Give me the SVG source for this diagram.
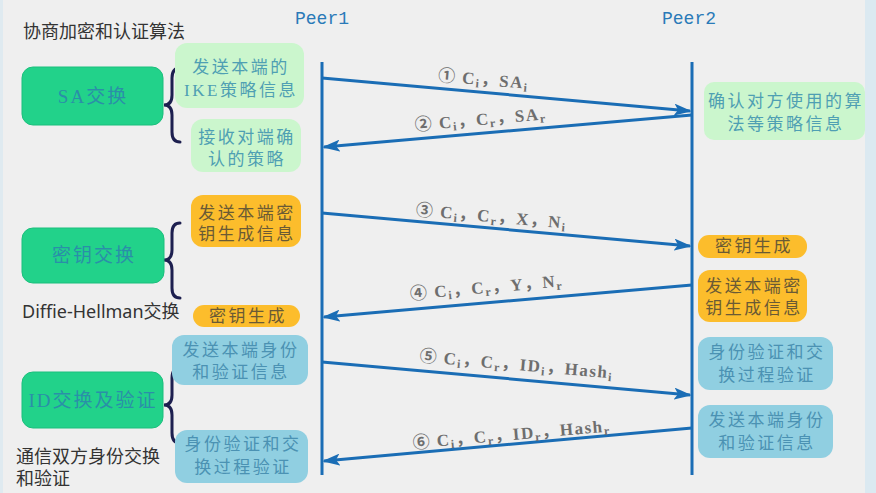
<svg xmlns="http://www.w3.org/2000/svg" width="876" height="493" viewBox="0 0 876 493">
<defs>
<style>
.bg{fill:#efefef}
.big{fill:#22d28a;stroke:#1bbf7c;stroke-width:1}
.bigt{font-family:"Liberation Serif","Noto Sans CJK SC",serif;font-size:19px;fill:#2a8fa8;text-anchor:middle;letter-spacing:2px}
.lg{fill:#cbf6cd}
.or{fill:#fcbd2c}
.bl{fill:#90cfe1}
.st{font-family:"Liberation Serif","Noto Sans CJK SC",serif;font-size:17px;text-anchor:middle;letter-spacing:2.5px}
.tg{fill:#4f9fb3}
.to{fill:#6a5a35}
.tb{fill:#4b92b3}
.ann{font-family:"Noto Sans","Noto Sans CJK SC",sans-serif;font-size:18px;fill:#333}
.peer{font-family:"Liberation Mono","Noto Sans CJK SC",monospace;font-size:18px;fill:#2a7ab8}
.life{stroke:#1a6db5;stroke-width:3;fill:none}
.msg{stroke:#1a6db5;stroke-width:3;fill:none;marker-end:url(#ah)}
.brace{stroke:#1d1f4f;stroke-width:3;fill:none;stroke-linecap:round}
.lab{font-family:"Liberation Serif","Noto Sans CJK SC",serif;font-size:17px;fill:#6e6e6e;text-anchor:middle;font-weight:bold;letter-spacing:1.5px}
.sub{font-size:12px}
</style>
<marker id="ah" markerUnits="userSpaceOnUse" markerWidth="18" markerHeight="12" refX="16" refY="6" orient="auto">
<path d="M0,0 L18,6 L0,12 L4,6 Z" fill="#1a6db5"/>
</marker>
</defs>
<rect class="bg" x="0" y="0" width="876" height="493"/>
<rect x="865" y="0" width="11" height="493" fill="#dbe9f1"/>
<rect x="0" y="0" width="3" height="493" fill="#dfeaf0"/>

<g id="title"><text class="ann" x="23" y="38">协商加密和认证算法</text></g>
<g id="peer1"><text class="peer" x="295" y="24">Peer1</text></g>
<g id="peer2"><text class="peer" x="662" y="24">Peer2</text></g>

<g id="connectors">
<line class="life" x1="322" y1="62" x2="322" y2="475"/>
<line class="life" x1="692" y1="62" x2="692" y2="475"/>
<line class="msg" x1="322" y1="78" x2="690" y2="111"/>
<line class="msg" x1="692" y1="115" x2="324" y2="147"/>
<line class="msg" x1="322" y1="213" x2="690" y2="246"/>
<line class="msg" x1="692" y1="285" x2="324" y2="317"/>
<line class="msg" x1="322" y1="362" x2="690" y2="395"/>
<line class="msg" x1="692" y1="428" x2="324" y2="461"/>
<path class="brace" d="M180,68 Q172,68 172,78 L172,95 Q172,105 164,105 Q172,105 172,115 L172,132 Q172,142 180,142"/>
<path class="brace" d="M180,223 Q172,223 172,233 L172,250 Q172,260 164,260 Q172,260 172,270 L172,288 Q172,298 180,298"/>
<path class="brace" d="M180,368 Q172,368 172,378 L172,395 Q172,405 164,405 Q172,405 172,415 L172,433 Q172,443 180,443"/>
</g>

<g id="labels">
<text class="lab" transform="translate(483,85) rotate(5)">① C<tspan class="sub" dy="3">i</tspan><tspan dy="-3">，SA</tspan><tspan class="sub" dy="3">i</tspan></text>
<text class="lab" transform="translate(481,125) rotate(-5)">② C<tspan class="sub" dy="3">i</tspan><tspan dy="-3">，C</tspan><tspan class="sub" dy="3">r</tspan><tspan dy="-3">，SA</tspan><tspan class="sub" dy="3">r</tspan></text>
<text class="lab" transform="translate(491,222) rotate(5)">③ C<tspan class="sub" dy="3">i</tspan><tspan dy="-3">，C</tspan><tspan class="sub" dy="3">r</tspan><tspan dy="-3">，X，N</tspan><tspan class="sub" dy="3">i</tspan></text>
<text class="lab" transform="translate(487,293) rotate(-5)">④ C<tspan class="sub" dy="3">i</tspan><tspan dy="-3">，C</tspan><tspan class="sub" dy="3">r</tspan><tspan dy="-3">，Y，N</tspan><tspan class="sub" dy="3">r</tspan></text>
<text class="lab" transform="translate(516,370) rotate(5)">⑤ C<tspan class="sub" dy="3">i</tspan><tspan dy="-3">，C</tspan><tspan class="sub" dy="3">r</tspan><tspan dy="-3">，ID</tspan><tspan class="sub" dy="3">i</tspan><tspan dy="-3">，Hash</tspan><tspan class="sub" dy="3">i</tspan></text>
<text class="lab" transform="translate(512,440) rotate(-5)">⑥ C<tspan class="sub" dy="3">i</tspan><tspan dy="-3">，C</tspan><tspan class="sub" dy="3">r</tspan><tspan dy="-3">，ID</tspan><tspan class="sub" dy="3">r</tspan><tspan dy="-3">，Hash</tspan><tspan class="sub" dy="3">r</tspan></text>
</g>

<g id="sa-exchange">
<rect class="big" x="22" y="67" width="141" height="58" rx="11"/>
<text class="bigt" x="93" y="103">SA交换</text>
</g>
<g id="sa-send">
<rect class="lg" x="175" y="43" width="129" height="65" rx="12"/>
<text class="st tg" x="241" y="73">发送本端的</text>
<text class="st tg" x="241" y="96">IKE策略信息</text>
</g>
<g id="sa-recv">
<rect class="lg" x="191" y="119" width="110" height="53" rx="12"/>
<text class="st tg" x="247" y="143">接收对端确</text>
<text class="st tg" x="247" y="165">认的策略</text>
</g>
<g id="sa-confirm">
<rect class="lg" x="704" y="82" width="161" height="58" rx="10"/>
<text class="st tg" x="786" y="107">确认对方使用的算</text>
<text class="st tg" x="786" y="130">法等策略信息</text>
</g>

<g id="key-exchange">
<rect class="big" x="22" y="228" width="142" height="55" rx="11"/>
<text class="bigt" x="94" y="262">密钥交换</text>
</g>
<g id="dh-label"><text class="ann" x="22" y="318" font-size="18.5">Diffie-Hellman交换</text></g>
<g id="key-send-l">
<rect class="or" x="191" y="195" width="110" height="52" rx="12"/>
<text class="st to" x="247" y="219">发送本端密</text>
<text class="st to" x="247" y="240">钥生成信息</text>
</g>
<g id="key-gen-l">
<rect class="or" x="193" y="305" width="107" height="22" rx="11"/>
<text class="st to" x="248" y="322">密钥生成</text>
</g>
<g id="key-gen-r">
<rect class="or" x="698" y="235" width="109" height="23" rx="11"/>
<text class="st to" x="754" y="252">密钥生成</text>
</g>
<g id="key-send-r">
<rect class="or" x="698" y="270" width="109" height="52" rx="12"/>
<text class="st to" x="754" y="292">发送本端密</text>
<text class="st to" x="754" y="314">钥生成信息</text>
</g>

<g id="id-exchange">
<rect class="big" x="22" y="372" width="141" height="56" rx="11"/>
<text class="bigt" x="93" y="407">ID交换及验证</text>
</g>
<g id="id-label">
<text class="ann" x="16" y="463">通信双方身份交换</text>
<text class="ann" x="16" y="485">和验证</text>
</g>
<g id="id-send-l">
<rect class="bl" x="172" y="335" width="136" height="50" rx="12"/>
<text class="st tb" x="241" y="356">发送本端身份</text>
<text class="st tb" x="241" y="378">和验证信息</text>
</g>
<g id="id-verify-l">
<rect class="bl" x="175" y="430" width="133" height="53" rx="12"/>
<text class="st tb" x="243" y="450">身份验证和交</text>
<text class="st tb" x="243" y="473">换过程验证</text>
</g>
<g id="id-verify-r">
<rect class="bl" x="698" y="337" width="135" height="53" rx="12"/>
<text class="st tb" x="767" y="358">身份验证和交</text>
<text class="st tb" x="767" y="381">换过程验证</text>
</g>
<g id="id-send-r">
<rect class="bl" x="698" y="405" width="135" height="53" rx="12"/>
<text class="st tb" x="767" y="426">发送本端身份</text>
<text class="st tb" x="767" y="449">和验证信息</text>
</g>
</svg>
